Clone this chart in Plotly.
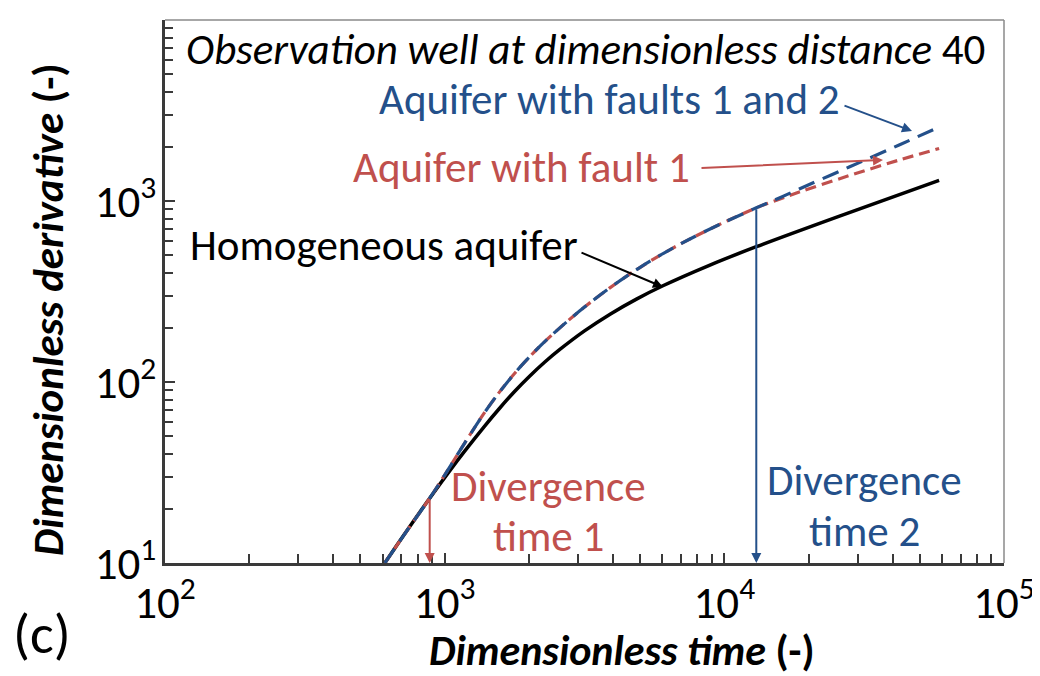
import numpy as np
import plotly.graph_objects as go

# ---------------- data ----------------
t_homog = [611, 720, 884, 1042, 1179, 1390, 1572, 1778, 2012, 2276, 2575, 3162,
           3917, 4851, 6004, 8840, 13010, 27500, 58610]
d_homog = [10, 14.5, 22.8, 32.3, 41.5, 57.1, 71.6, 88.6, 107.6, 128.5, 150.8, 191.6,
           237.8, 287.1, 339.2, 441.4, 559.0, 855.1, 1300]

t_common = [611, 720, 884, 1000, 1179, 1390, 1572, 1853, 2184, 2575, 3162, 3885,
            4970, 6522, 8626, 13010]
d_common = [10, 14.5, 22.8, 30.6, 46.0, 67.9, 88.2, 120.0, 156.7, 198.6, 259.3, 330.2,
            427.4, 547.9, 684.6, 917.0]

t_tail = [15725, 18530, 27950, 42170, 58610]
d_fault1_tail = [1022, 1120, 1381, 1683, 1950]
d_faults12_tail = [1039, 1165, 1541, 2039, 2564]

t_fault1 = t_common + t_tail
d_fault1 = d_common + d_fault1_tail
t_faults12 = t_common + t_tail
d_faults12 = d_common + d_faults12_tail

div_time1, div_val1 = 884, 22.8
div_time2, div_val2 = 13010, 917

x_tickvals = [1e2, 1e3, 1e4, 1e5]
x_ticktext = ["10<sup>2</sup>", "10<sup>3</sup>", "10<sup>4</sup>", "10<sup>5</sup>"]
y_tickvals = [1e1, 1e2, 1e3, 1e4]
y_ticktext = ["10<sup>1</sup>", "10<sup>2</sup>", "10<sup>3</sup>", "10<sup>4</sup>"]

# ---------------- style ----------------
FONT = "Carlito, Lato, sans-serif"
BLUE = "#24508A"
RED = "#C0504D"
BLACK = "#000000"
AXC = "#3A3A3A"
TS = 43  # annotation text size

# the page body adds an 8px offset; the figure is sized to fill the window
OFF = 8
W, H = 1040 - OFF, 676 - OFF
# plot area in window pixels
X0, X1, Y0, Y1 = 165, 1004, 20, 563
ML, MR, MT, MB = X0 - OFF, 1040 - X1, Y0 - OFF, 676 - Y1


def px(xp):
    return (xp - X0) / (X1 - X0)


def py(yp):
    return (Y1 - yp) / (Y1 - Y0)


fig = go.Figure()
fig.add_trace(go.Scatter(x=t_homog, y=d_homog, mode="lines", line_shape="spline",
                         line=dict(color=BLACK, width=3.5), showlegend=False))
fig.add_trace(go.Scatter(x=t_fault1, y=d_fault1, mode="lines", line_shape="spline",
                         line=dict(color=RED, width=3.2, dash="11px,6px"), showlegend=False))
fig.add_trace(go.Scatter(x=t_faults12, y=d_faults12, mode="lines", line_shape="spline",
                         line=dict(color=BLUE, width=3.2, dash="17px,9px"), showlegend=False))

minor_x = [m * 10 ** k for k in range(2, 5) for m in range(2, 10)]
minor_y = [m * 10 ** k for k in range(1, 4) for m in range(2, 10)]

axis_common = dict(type="log", showgrid=False, zeroline=False, showline=True,
                   linecolor=AXC, linewidth=2.5, ticks="inside", ticklen=10,
                   tickwidth=1.5, tickcolor=AXC, tickmode="array", automargin=False,
                   tickfont=dict(family=FONT, size=45, color="black"))

fig.update_xaxes(range=[2, 5], tickvals=x_tickvals, ticktext=x_ticktext,
                 ticklabelstandoff=-2,
                 minor=dict(tickmode="array", tickvals=minor_x, ticks="inside",
                            ticklen=9, tickwidth=1.5, tickcolor=AXC, showgrid=False),
                 **axis_common)
fig.update_yaxes(range=[1, 4], tickvals=y_tickvals, ticktext=y_ticktext,
                 ticklabelstandoff=-3,
                 minor=dict(tickmode="array", tickvals=minor_y, ticks="inside",
                            ticklen=8, tickwidth=1.5, tickcolor=AXC, showgrid=False),
                 **axis_common)

# top / right frame in grey
fig.add_shape(type="line", xref="paper", yref="paper", x0=0, x1=1, y0=1, y1=1,
              line=dict(color="#8A8A8A", width=1.5))
fig.add_shape(type="line", xref="paper", yref="paper", x0=1, x1=1, y0=0, y1=1,
              line=dict(color="#8A8A8A", width=1.5))

ann = []


def text(t, xp, yp, color="black", size=TS, xanchor="center", angle=0):
    ann.append(dict(text=t, xref="paper", yref="paper", x=px(xp), y=py(yp),
                    xanchor=xanchor, yanchor="middle", showarrow=False, textangle=angle,
                    font=dict(family=FONT, size=size, color=color)))


def arrow(tip, tail, color):
    ann.append(dict(text="", xref="paper", yref="paper", x=px(tip[0]), y=py(tip[1]),
                    ax=tail[0] - tip[0], ay=tail[1] - tip[1], axref="pixel", ayref="pixel",
                    showarrow=True, arrowhead=2, arrowsize=1, arrowwidth=2,
                    arrowcolor=color, standoff=0, startstandoff=0))


text("<i>Observation well at dimensionless distance</i> 40", 585, 50)
text("Aquifer with faults 1 and 2", 609, 100, color=BLUE)
text("Aquifer with fault 1", 521, 168, color=RED)
text("Homogeneous aquifer", 384, 245)
text("Divergence", 548, 486, color=RED)
text("time 1", 548, 536, color=RED)
text("Divergence", 864, 480, color=BLUE)
text("time 2", 864, 531, color=BLUE)
text("(c)", 42, 634, size=56)
text("<b><i>Dimensionless time</i> (-)</b>", 622, 650, size=42)
text("<b><i>Dimensionless derivative</i> (-)</b>", 48, 310, size=43, angle=-90)

arrow((912, 131), (843, 105), BLUE)
arrow((883, 160), (700, 168), RED)
arrow((663, 287), (580, 252), BLACK)

# vertical divergence arrows in data coordinates
for t, v, c in [(div_time1, div_val1, RED), (div_time2, div_val2, BLUE)]:
    ann.append(dict(text="", x=np.log10(t), y=1, xref="x", yref="y",
                    ax=np.log10(t), ay=np.log10(v), axref="x", ayref="y",
                    showarrow=True, arrowhead=2, arrowsize=1, arrowwidth=2,
                    arrowcolor=c, standoff=0))

fig.update_layout(width=W, height=H, margin=dict(l=ML, r=MR, t=MT, b=MB),
                  paper_bgcolor="white", plot_bgcolor="white",
                  annotations=ann, font=dict(family=FONT))

fig.write_html("out.html")
